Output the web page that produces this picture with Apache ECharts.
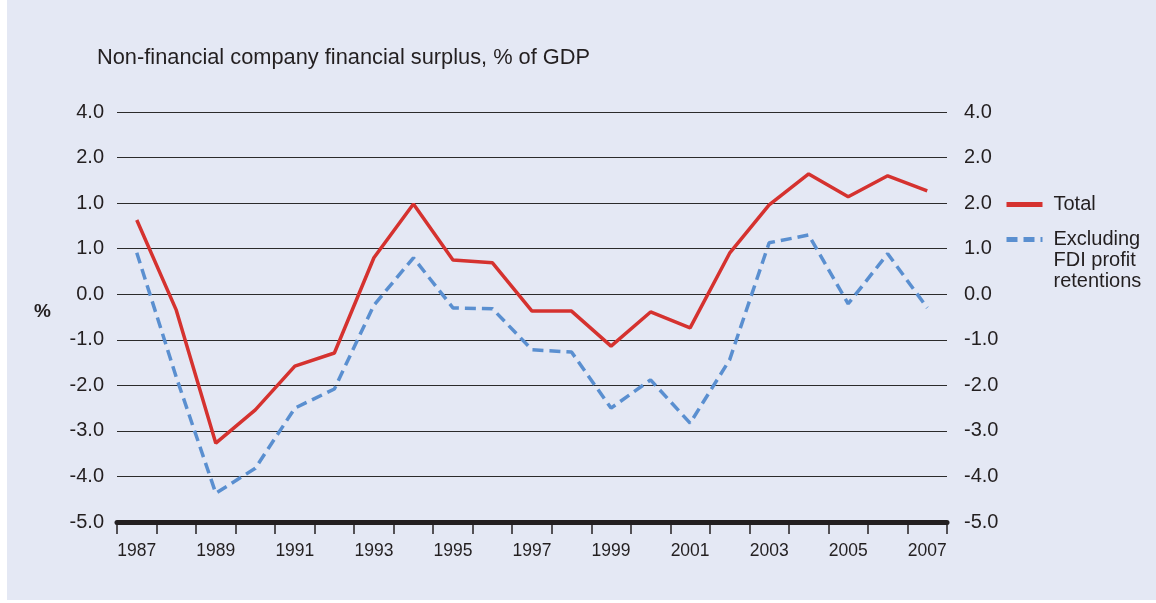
<!DOCTYPE html>
<html>
<head>
<meta charset="utf-8">
<script src="https://cdn.jsdelivr.net/npm/echarts@6/dist/echarts.min.js"></script>
<style>
  html, body { margin: 0; padding: 0; background: #fff; }
  #chart {
    width: 1156px; height: 603px;
    background: linear-gradient(#e4e8f4, #e4e8f4) 7px 0 / 1149px 600px no-repeat, #fff;
  }
</style>
</head>
<body>
<div id="chart"></div>
<script>
// Non-financial company financial surplus, % of GDP
const years = ['1987', '1988', '1989', '1990', '1991', '1992', '1993', '1994', '1995', '1996', '1997',
  '1998', '1999', '2000', '2001', '2002', '2003', '2004', '2005', '2006', '2007'];

const total = [1.63, -0.35, -3.27, -2.54, -1.58, -1.29, 0.8, 1.98, 0.75, 0.69, -0.37,
  -0.37, -1.14, -0.39, -0.74, 0.9, 1.96, 2.64, 2.14, 2.6, 2.27];

const exFdi = [0.91, -1.82, -4.37, -3.82, -2.5, -2.08, -0.24, 0.8, -0.3, -0.32, -1.22,
  -1.27, -2.5, -1.88, -2.83, -1.44, 1.13, 1.3, -0.21, 0.89, -0.3];

// tick labels as printed, top to bottom
const leftTicks = ['4.0', '2.0', '1.0', '1.0', '0.0', '-1.0', '-2.0', '-3.0', '-4.0', '-5.0'];
const rightTicks = ['4.0', '2.0', '2.0', '1.0', '0.0', '-1.0', '-2.0', '-3.0', '-4.0', '-5.0'];

const chart = echarts.init(document.getElementById('chart'));
const font = 'Liberation Sans, Arial, sans-serif';
const ink = '#231f20';

function tickFmt(list) {
  return v => list[Math.round(4 - v)] || '';
}

const legendBase = {
  orient: 'vertical',
  left: 1004,
  padding: 0,
  itemWidth: 36, itemHeight: 14,
  itemStyle: { opacity: 0 },
  lineStyle: { width: 5 },
  textStyle: { fontFamily: font, fontSize: 20, color: ink, lineHeight: 21, padding: [0, 0, 0, 6] },
};

chart.setOption({
  backgroundColor: 'transparent',
  animation: false,
  title: {
    text: 'Non-financial company financial surplus, % of GDP',
    left: 92, top: 42,
    textStyle: { fontFamily: font, fontSize: 21.8, fontWeight: 'normal', color: ink },
  },
  legend: [
    Object.assign({}, legendBase, { top: 194, data: ['Total'] }),
    Object.assign({}, legendBase, {
      top: 187,
      data: ['Excluding FDI profit retentions'],
      // two blank lines so the icon sits beside the first text line
      formatter: () => '\n\nExcluding\nFDI profit\nretentions',
    }),
  ],
  grid: { left: 117, right: 209, top: 112, bottom: 81, containLabel: false },
  xAxis: {
    type: 'category',
    data: years,
    boundaryGap: true,
    axisLine: { onZero: false, lineStyle: { color: ink, width: 5 } },
    axisTick: { show: true, interval: 0, length: 12, lineStyle: { color: ink, width: 1.5 } },
    axisLabel: { interval: 1, fontFamily: font, fontSize: 17.5, color: ink, margin: 20 },
  },
  yAxis: [{
    type: 'value',
    min: -5, max: 4, interval: 1,
    name: '%',
    nameLocation: 'middle',
    nameRotate: 0,
    nameGap: 66,
    nameTextStyle: { fontFamily: font, fontSize: 19, fontWeight: 'bold', color: ink, verticalAlign: 'bottom', lineHeight: 10 },
    axisLine: { show: false },
    axisTick: { show: false },
    splitLine: { lineStyle: { color: '#2b2b2b', width: 1.2 } },
    axisLabel: { formatter: tickFmt(leftTicks), fontFamily: font, fontSize: 20, color: ink, margin: 13 },
  }, {
    type: 'value',
    position: 'right',
    min: -5, max: 4, interval: 1,
    axisLine: { show: false },
    axisTick: { show: false },
    splitLine: { show: false },
    axisLabel: { formatter: tickFmt(rightTicks), fontFamily: font, fontSize: 20, color: ink, margin: 17 },
  }],
  series: [{
    name: 'Total',
    type: 'line',
    data: total,
    symbol: 'none',
    lineStyle: { color: '#d5322f', width: 3.5 },
    itemStyle: { color: '#d5322f' },
  }, {
    name: 'Excluding FDI profit retentions',
    type: 'line',
    data: exFdi,
    symbol: 'none',
    lineStyle: { color: '#5a8fd0', width: 3.5, type: [11, 6] },
    itemStyle: { color: '#5a8fd0' },
  }],
});

window.addEventListener('resize', () => chart && chart.resize());
</script>
</body>
</html>
